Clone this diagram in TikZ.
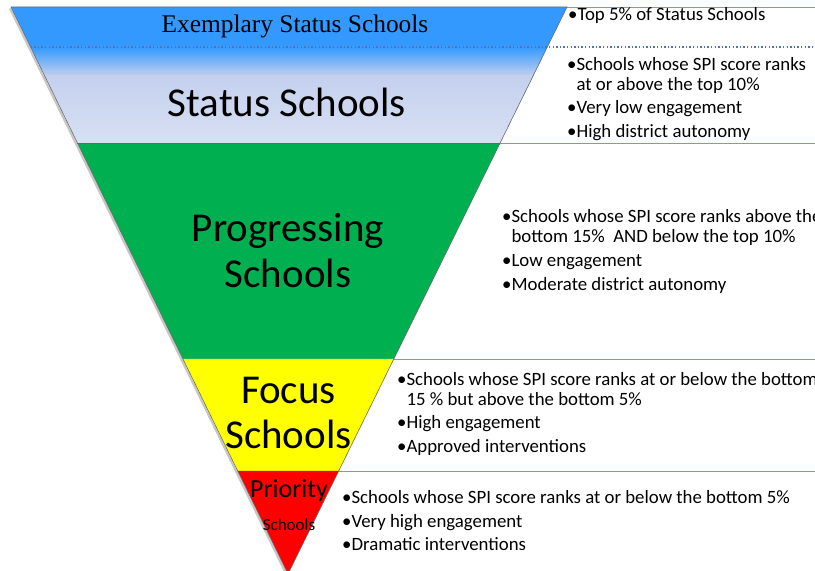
\documentclass[tikz,border=0pt]{standalone}
\usepackage{fontspec}
\setmainfont{Carlito}
\newfontfamily\serifrm{Liberation Serif}
\usetikzlibrary{calc}
\definecolor{exblue}{RGB}{51,153,255}
\definecolor{stlight}{RGB}{216,224,243}
\definecolor{sttop}{RGB}{196,208,238}
\definecolor{prgreen}{RGB}{0,176,80}
\definecolor{prline}{RGB}{40,140,80}
\definecolor{fcyellow}{RGB}{255,255,0}
\definecolor{pred}{RGB}{255,0,0}
\definecolor{rulecol}{RGB}{120,152,212}
\definecolor{dotblue}{RGB}{79,113,190}
\definecolor{edgegray}{RGB}{105,105,105}
\newcommand{\bul}{•}
\newcommand{\bind}{\phantom{•}}
\begin{document}
\begin{tikzpicture}[x=1bp,y=-1bp,
  bigtext/.style={anchor=base,inner sep=0pt,font=\fontsize{41bp}{45bp}\selectfont},
  info/.style={anchor=base west,inner sep=0pt,font=\fontsize{18.8bp}{20bp}\selectfont},
  hrule/.style={draw=rulecol,line width=0.8bp}]
\useasboundingbox (0,0) rectangle (815,571);
\clip (0,0) rectangle (815,571);
\coordinate (A) at (11,7);
\coordinate (B) at (567,7);
\coordinate (P) at (288,574);
\coordinate (E) at (815,0);
\coordinate (L1) at ($(A)!0.0705!(P)$); \coordinate (R1) at ($(B)!0.0705!(P)$);
\coordinate (L2) at ($(A)!0.2399!(P)$); \coordinate (R2) at ($(B)!0.2399!(P)$);
\coordinate (L3) at ($(A)!0.6208!(P)$); \coordinate (R3) at ($(B)!0.6208!(P)$);
\coordinate (L4) at ($(A)!0.8183!(P)$); \coordinate (R4) at ($(B)!0.8183!(P)$);
% shadow
\draw[gray!45,line width=2.2bp] ($(A)+(-1,1.5)$) -- ($(P)+(-1,1.5)$);
% bands
\fill[exblue] (A) -- (B) -- (R1) -- (L1) -- cycle;
\fill[stlight] (L1) -- (R1) -- (R2) -- (L2) -- cycle;
\begin{scope}
  \clip (L1) -- (R1) -- (R2) -- (L2) -- cycle;
  \shade[top color=exblue, bottom color=sttop] (0,47) rectangle (815,76);
  \shade[top color=sttop, bottom color=stlight] (0,76) rectangle (815,143.5);
\end{scope}
\fill[prgreen] (L2) -- (R2) -- (R3) -- (L3) -- cycle;
\fill[fcyellow] (L3) -- (R3) -- (R4) -- (L4) -- cycle;
\fill[pred] (L4) -- (R4) -- (P) -- cycle;
\draw[prline,line width=1bp] (L2) -- (R2);
\draw[edgegray,line width=0.6bp] (A) -- (B) -- (P) -- cycle;
% dotted separator
\draw[dotblue,line width=1.4bp,dash pattern=on 1.4bp off 2.2bp] (L1) -- (L1 -| E);
% rules to the right
\draw[hrule] (B) -- (B -| E);
\draw[hrule] (R2) -- (R2 -| E);
\draw[hrule] (R3) -- (R3 -| E);
\draw[hrule] (R4) -- (R4 -| E);
% band labels
\node[anchor=base,inner sep=0pt,font=\serifrm\fontsize{25.4bp}{26bp}\selectfont] (ex) at (295,33) {Exemplary Status Schools};
\node[bigtext] (st) at (287,117) {Status Schools};
\node[bigtext] (pg) at (288,242) {\parbox[t]{260bp}{\centering Progressing\\Schools}};
\node[bigtext] (fc) at (288.5,403) {\parbox[t]{200bp}{\centering Focus\\Schools}};
\node[anchor=base,inner sep=0pt,font=\fontsize{26bp}{30bp}\selectfont] (pr) at (289,497) {Priority};
\node[anchor=base,inner sep=0pt,font=\fontsize{17bp}{20bp}\selectfont] (prs) at (289,530) {Schools};
% info texts
\node[info] (i1) at (568,21) {\bul Top 5\% of Status Schools};
\node[info] (i2) at (567,71) {\parbox[t]{600bp}{\raggedright
  \bul Schools whose SPI score ranks\\\bind at or above the top 10\%\\[3bp]
  \bul Very low engagement\\[3.5bp]
  \bul High district autonomy}};
\node[info] (i3) at (502,223) {\parbox[t]{600bp}{\raggedright
  \bul Schools whose SPI score ranks above the\\\bind bottom 15\%~ AND below the top 10\%\\[3.5bp]
  \bul Low engagement\\[3.5bp]
  \bul Moderate district autonomy}};
\node[info] (i4) at (397,385) {\parbox[t]{600bp}{\raggedright
  \bul Schools whose SPI score ranks at or below the bottom\\\bind 15 \% but above the bottom 5\%\\[3.5bp]
  \bul High engagement\\[3.5bp]
  \bul Approved interventions}};
\node[info] (i5) at (342,503) {\parbox[t]{600bp}{\raggedright
  \bul Schools whose SPI score ranks at or below the bottom 5\%\\[4bp]
  \bul Very high engagement\\[3.5bp]
  \bul Dramatic interventions}};
\end{tikzpicture}
\end{document}
